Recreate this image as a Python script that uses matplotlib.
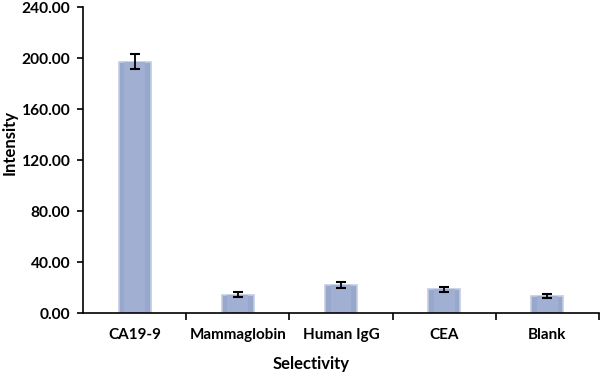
import matplotlib
matplotlib.use("Agg")
import matplotlib.pyplot as plt
import numpy as np

categories = ["CA19-9", "Mammaglobin", "Human IgG", "CEA", "Blank"]
values = [197.0, 14.5, 22.0, 18.5, 13.5]
errors = [6.0, 2.0, 2.2, 1.8, 1.6]
yticks = [0, 40, 80, 120, 160, 200, 240]

plt.rcParams['font.family'] = ['Lato', 'DejaVu Sans']
fig = plt.figure(figsize=(6, 3.75), dpi=100)
ax = fig.add_axes([0.1383, 0.1653, 0.86, 0.816])

x = np.arange(len(categories))
ax.bar(x, values, width=0.31, color="#98a8cc", edgecolor="#c3cce0", linewidth=1.2, zorder=2)
ax.bar(x, values, width=0.2, color="#a1b0d2", linewidth=0, zorder=2)
ax.errorbar(x, values, yerr=errors, fmt="none", ecolor="black", elinewidth=1.3,
            capsize=3.6, capthick=1.5, zorder=3)

ax.set_xlim(-0.5, len(categories) - 0.5)
ax.set_ylim(0, 240)
ax.set_yticks(yticks)
ax.set_yticklabels([f"{v:.2f}" for v in yticks], fontsize=11.2, fontweight="bold")
ax.set_xticks(np.arange(0.5, len(categories), 1.0))
ax.set_xticklabels([])
ax.set_xticks(x, minor=True)
ax.set_xticklabels(categories, minor=True, fontsize=11, fontweight="bold")
ax.tick_params(axis="x", which="minor", length=0, pad=11)
ax.tick_params(axis="x", which="major", length=5, width=1.2, direction="out")
ax.tick_params(axis="y", length=4, width=1.2, direction="out", pad=5)
for s in ["top", "right"]:
    ax.spines[s].set_visible(False)
for s in ["left", "bottom"]:
    ax.spines[s].set_linewidth(1.2)
ax.set_xlabel("Selectivity", fontsize=12, fontweight="bold", va="center", ha="center")
ax.xaxis.set_label_coords(0.443, -0.167)
ax.set_ylabel("Intensity", fontsize=12, fontweight="bold", va="center", ha="center")
ax.yaxis.set_label_coords(-0.142, 0.556)
fig.savefig("out.png", dpi=100)
